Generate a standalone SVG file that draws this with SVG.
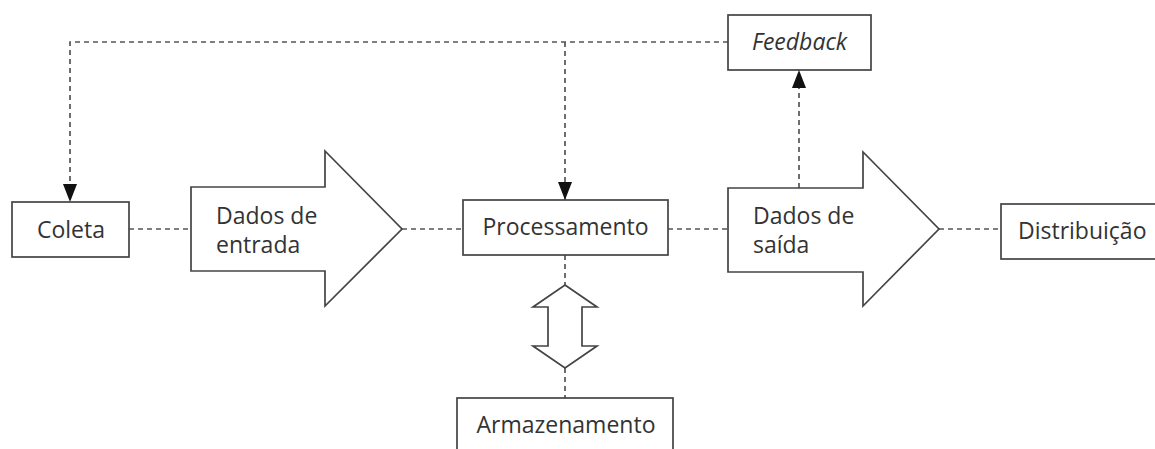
<svg xmlns="http://www.w3.org/2000/svg" width="1155" height="449" viewBox="0 0 1155 449">
  <style>
    .box { fill: #fff; stroke: #444; stroke-width: 1.7; }
    .shape { fill: #fff; stroke: #444; stroke-width: 1.7; stroke-linejoin: miter; }
    .dash { fill: none; stroke: #555; stroke-width: 1.7; stroke-dasharray: 5 4; }
    .lbl { font-family: "Open Sans", "Noto Sans", "Liberation Sans", sans-serif; font-size: 23px; fill: #333; }
    .mid { text-anchor: middle; }
  </style>
  <defs>
    <marker id="tri" viewBox="0 0 18 14" refX="18" refY="7" markerWidth="18" markerHeight="14" markerUnits="userSpaceOnUse" orient="auto">
      <path d="M0,0 L18,7 L0,14 Z" fill="#111"/>
    </marker>
  </defs>
  <rect width="1155" height="449" fill="#fff"/>

  <!-- connectors -->
  <g id="connectors">
    <path class="dash" d="M129,229 H191"/>
    <path class="dash" d="M402,229 H463"/>
    <path class="dash" d="M668,229 H728"/>
    <path class="dash" d="M939,229 H1001"/>
    <path class="dash" d="M565,255 V285"/>
    <path class="dash" d="M565,368 V398"/>
    <path class="dash" d="M728,42 H70 V202" marker-end="url(#tri)"/>
    <path class="dash" d="M565,42 V200" marker-end="url(#tri)"/>
    <path class="dash" d="M799,188 V70" marker-end="url(#tri)"/>
  </g>

  <g id="coleta">
    <rect class="box" x="12" y="202" width="117" height="55"/>
    <text class="lbl mid" x="71" y="238">Coleta</text>
  </g>

  <g id="dados-entrada">
    <path class="shape" d="M191,187 H325 V151 L402,229 L325,306 V271 H191 Z"/>
    <text class="lbl" x="216" y="224">Dados de</text>
    <text class="lbl" x="216" y="253">entrada</text>
  </g>

  <g id="processamento">
    <rect class="box" x="463" y="200" width="205" height="55"/>
    <text class="lbl mid" x="565.5" y="235">Processamento</text>
  </g>

  <g id="troca-armazenamento">
    <path class="shape" d="M565,285 L597,307 H582 V346 H597 L565,368 L533,346 H548 V307 H533 Z"/>
  </g>

  <g id="armazenamento">
    <rect class="box" x="457" y="398" width="216" height="60"/>
    <text class="lbl mid" x="566" y="433" font-size="23.5">Armazenamento</text>
  </g>

  <g id="dados-saida">
    <path class="shape" d="M728,188 H863 V152 L939,229 L863,306 V272 H728 Z"/>
    <text class="lbl" x="753" y="224">Dados de</text>
    <text class="lbl" x="753" y="253">saída</text>
  </g>

  <g id="distribuicao">
    <rect class="box" x="1001" y="204" width="170" height="55"/>
    <text class="lbl" x="1018" y="239">Distribuição</text>
  </g>

  <g id="feedback">
    <rect class="box" x="728" y="15" width="143" height="55"/>
    <text class="lbl mid" x="799.5" y="50" font-style="italic">Feedback</text>
  </g>
</svg>
